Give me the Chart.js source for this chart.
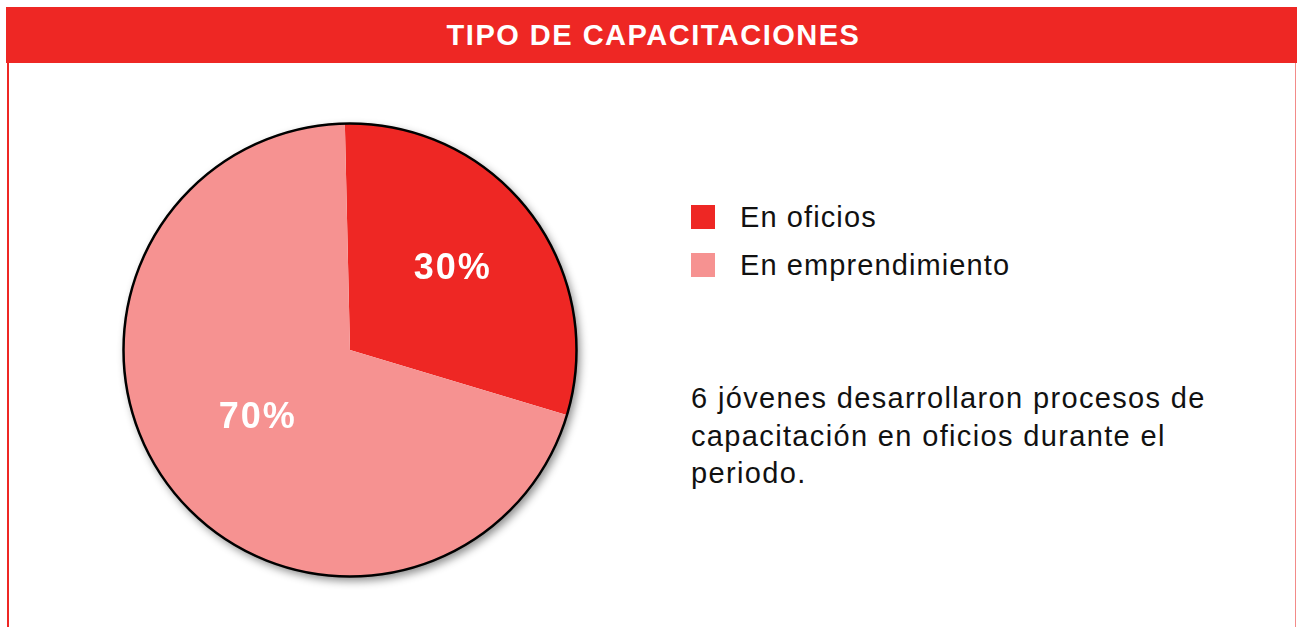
<!DOCTYPE html>
<html lang="es">
<head>
    <meta charset="UTF-8">
    <title>Tipo de capacitaciones</title>
    <script src="https://cdn.jsdelivr.net/npm/chart.js"></script>
    <style>
        body {
            margin: 0;
            width: 1297px;
            height: 627px;
            background: #ffffff;
            position: relative;
            overflow: hidden;
            font-family: "Liberation Sans", Arial, sans-serif;
        }
        .header {
            position: absolute;
            left: 6px;
            top: 7px;
            width: 1291px;
            height: 56px;
            background: #EE2724;
            color: #ffffff;
            font-weight: bold;
            font-size: 29px;
            letter-spacing: 1.5px;
            text-align: center;
            line-height: 56px;
            padding-left: 4px;
            box-sizing: border-box;
        }
        .borde-izq {
            position: absolute;
            left: 7px;
            top: 63px;
            width: 2px;
            height: 564px;
            background: #EE2724;
        }
        .borde-der {
            position: absolute;
            left: 1295px;
            top: 63px;
            width: 1px;
            height: 564px;
            background: #F28B89;
        }
        #pie {
            position: absolute;
            left: 110px;
            top: 110px;
        }
        .leyenda {
            position: absolute;
            left: 691px;
            top: 205px;
        }
        .item {
            height: 48px;
            position: relative;
        }
        .caja {
            position: absolute;
            left: 0;
            top: 0;
            width: 24px;
            height: 24px;
        }
        .item span {
            position: absolute;
            left: 49px;
            top: -5px;
            font-size: 29px;
            letter-spacing: 1.1px;
            line-height: 34px;
            white-space: nowrap;
            color: #111111;
        }
        .nota {
            position: absolute;
            left: 691px;
            top: 380px;
            font-size: 29px;
            letter-spacing: 1.35px;
            line-height: 37.5px;
            color: #111111;
        }
    </style>
</head>
<body>
    <div class="header">TIPO DE CAPACITACIONES</div>
    <div class="borde-izq"></div>
    <div class="borde-der"></div>
    <canvas id="pie" width="480" height="480"></canvas>
    <div class="leyenda" id="leyenda"></div>
    <div class="nota">6 jóvenes desarrollaron procesos de<br>capacitación en oficios durante el<br>periodo.</div>

    <script>
        // Datos
        const categorias = ['En oficios', 'En emprendimiento'];
        const porcentajes = [30, 70];
        const colores = ['#EE2724', '#F69291'];

        // Leyenda a partir de los mismos arreglos
        const leyenda = document.getElementById('leyenda');
        categorias.forEach((cat, i) => {
            const item = document.createElement('div');
            item.className = 'item';
            item.innerHTML = '<div class="caja" style="background:' + colores[i] + '"></div><span>' + cat + '</span>';
            leyenda.appendChild(item);
        });

        // Sombra, contorno negro y etiquetas de porcentaje
        const decoracion = {
            id: 'decoracion',
            beforeDatasetsDraw(chart) {
                const arc = chart.getDatasetMeta(0).data[0];
                const ctx = chart.ctx;
                ctx.save();
                ctx.shadowColor = 'rgba(0,0,0,0.45)';
                ctx.shadowBlur = 8;
                ctx.shadowOffsetX = 3;
                ctx.shadowOffsetY = 4;
                ctx.beginPath();
                ctx.arc(arc.x, arc.y, arc.outerRadius, 0, Math.PI * 2);
                ctx.fillStyle = '#ffffff';
                ctx.fill();
                ctx.restore();
            },
            afterDatasetsDraw(chart) {
                const meta = chart.getDatasetMeta(0);
                const ctx = chart.ctx;
                const first = meta.data[0];
                ctx.save();
                ctx.beginPath();
                ctx.arc(first.x, first.y, first.outerRadius - 0.5, 0, Math.PI * 2);
                ctx.lineWidth = 2.5;
                ctx.strokeStyle = '#000000';
                ctx.stroke();

                const factores = [0.58, 0.5];
                ctx.fillStyle = '#ffffff';
                ctx.font = 'bold 36px "Liberation Sans", Arial, sans-serif';
                ctx.letterSpacing = '2px';
                ctx.textAlign = 'center';
                ctx.textBaseline = 'alphabetic';
                meta.data.forEach((a, i) => {
                    const mid = (a.startAngle + a.endAngle) / 2;
                    const r = a.outerRadius * factores[i];
                    const x = a.x + Math.cos(mid) * r;
                    const y = a.y + Math.sin(mid) * r;
                    ctx.fillText(porcentajes[i] + '%', x - 2, y + 9);
                });
                ctx.restore();
            }
        };

        new Chart(document.getElementById('pie'), {
            type: 'pie',
            data: {
                labels: categorias,
                datasets: [{
                    data: porcentajes,
                    backgroundColor: colores,
                    borderWidth: 0,
                    hoverOffset: 0
                }]
            },
            options: {
                responsive: false,
                animation: false,
                rotation: -1.3,
                layout: { padding: 13 },
                plugins: {
                    legend: { display: false },
                    tooltip: { enabled: false }
                }
            },
            plugins: [decoracion]
        });
    </script>
</body>
</html>
